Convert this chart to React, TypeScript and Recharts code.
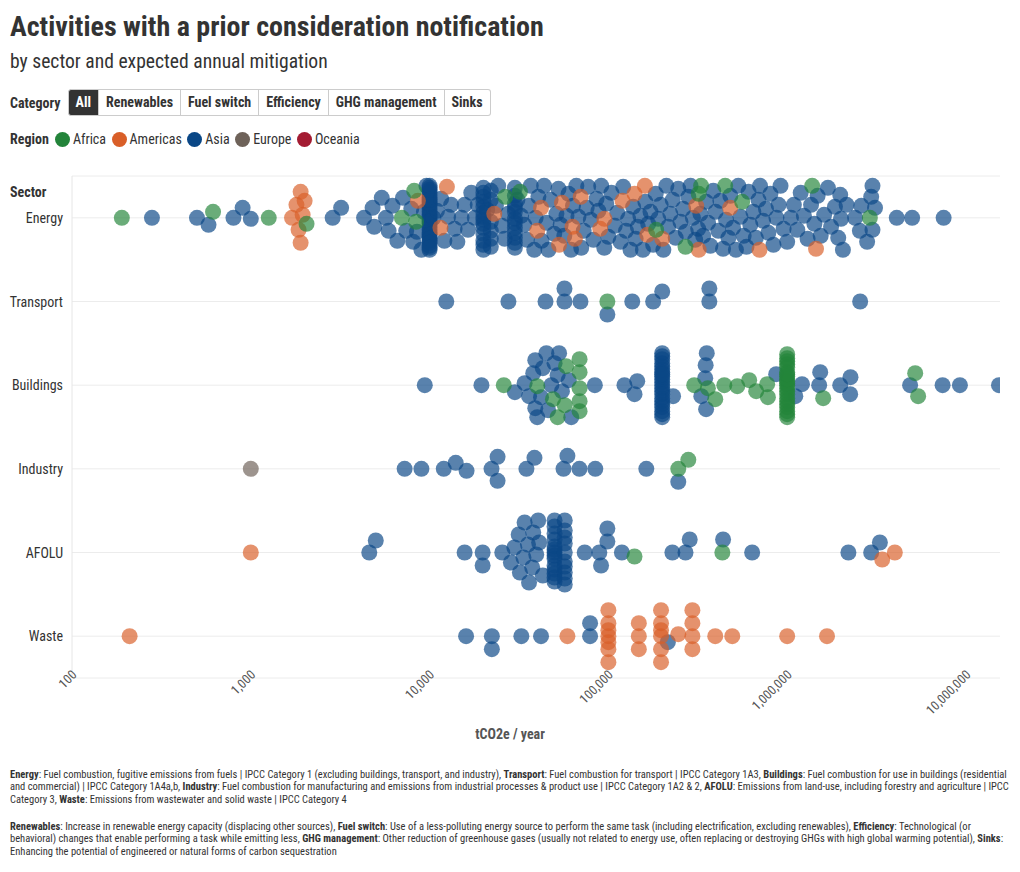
import React from 'react';
import { ScatterChart, Scatter, XAxis, YAxis, CartesianGrid } from 'recharts';

const sectors = ['Energy', 'Transport', 'Buildings', 'Industry', 'AFOLU', 'Waste'];
const regions = ['Africa', 'Americas', 'Asia', 'Europe', 'Oceania'];
const regionColors = ['#23843a', '#d95f28', '#0a4786', '#6e6259', '#a31b32'];
const categories = ['All', 'Renewables', 'Fuel switch', 'Efficiency', 'GHG management', 'Sinks'];
const xTicks = [100, 1000, 10000, 100000, 1000000, 10000000];

// one entry per activity, tCO2e / year
const energyAfrica = [190, 615, 1260, 2050, 7000, 8200, 8400, 26500, 32000, 185000, 270000, 320000, 330000, 450000, 560000, 1380000, 2900000];
const energyAmericas = [1700, 1800, 1850, 1900, 1900, 1950, 2000, 8600, 11500, 12500, 23000, 40000, 42000, 53000, 55000, 63000, 65000, 70000, 90000, 95000, 120000, 140000, 160000, 165000, 200000, 310000, 320000, 480000, 700000, 1450000];
const energyAsia = [
  280, 500, 580, 800, 900, 1000, 2870, 3200, 4300, 4800, 4900, 5400, 5700, 5900, 6200, 6600, 7100, 7400,
  7900, 8100, 8500, 9000, 9300, 9600, 10500, 11000, 11600, 12100, 12700, 13200, 13800, 14300, 15100, 15700,
  16400, 17100, 17900, 18600, 21000, 23500, 24200, 25400, 26300, 27500, 31000, 32500, 33800, 35000, 35900,
  36800, 38500, 39200, 40600, 42300, 43700, 45100, 46200, 47500, 49800, 51200, 52600, 54100, 56700, 58300,
  59900, 61800, 63400, 66200, 68000, 70500, 72800, 75600, 77100, 79800, 82500, 85900, 88000, 91200, 94800,
  97300, 100000, 104000, 108500, 112000, 117000, 121000, 125500, 129000, 133000, 137500, 142000, 146000,
  151000, 156000, 161000, 167000, 172000, 178000, 184000, 190000, 196000, 203000, 211000, 216000, 222000,
  229000, 238000, 246000, 253000, 262000, 271000, 280000, 288000, 297000, 306000, 318000, 327000, 339000,
  352000, 361000, 372000, 386000, 398000, 412000, 423000, 438000, 455000, 469000, 481000, 498000, 517000,
  533000, 548000, 571000, 592000, 608000, 622000, 647000, 668000, 691000, 705000, 733000, 761000, 785000,
  806000, 838000, 871000, 895000, 918000, 955000, 1000000, 1050000, 1090000, 1140000, 1190000, 1240000,
  1300000, 1360000, 1420000, 1480000, 1540000, 1610000, 1690000, 1760000, 1850000, 1930000, 1980000,
  2000000, 2050000, 2150000, 2400000, 2550000, 2600000, 2800000, 2950000, 3000000, 3000000, 3100000,
  4100000, 5000000, 7500000,
];
const transportAfrica = [98700];
const transportAsia = [12400, 27600, 44500, 56800, 56800, 69800, 98700, 136000, 178000, 200000, 367000, 367000, 2560000];
const buildingsAfrica = [26000, 40000, 49000, 52000, 57000, 58000, 69000, 69000, 69000, 69000, 69000, 302000, 360000, 396000, 445000, 526000, 613000, 671000, 773000, 780000, 1590000, 5200000, 5400000];
const buildingsAsia = [
  9400, 19500, 30000, 34000, 36000, 38000, 39000, 39000, 40000, 42000, 43000, 45000, 46000, 48000, 50000,
  52000, 53000, 55000, 60000, 62000, 84000, 123000, 140000, 145000, 230000, 331000, 348000, 350000, 352000,
  355000, 868000, 1110000, 1210000, 1510000, 1530000, 1980000, 2250000, 2260000, 4870000, 7400000, 9250000, 15300000,
];
const industryAfrica = [246000, 280000];
const industryAsia = [7250, 9000, 12000, 14000, 16100, 22200, 24000, 24000, 34800, 38600, 56100, 59000, 68900, 84500, 163000, 246000];
const industryEurope = [1000];
const afoluAfrica = [140000, 434000];
const afoluAmericas = [1000, 3400000, 4000000];
const afoluAsia = [
  4600, 5000, 15700, 19800, 19800, 25500, 28500, 29800, 31500, 32000, 33500, 34000, 35500, 36000, 37500,
  38000, 39500, 40500, 41000, 43000, 73700, 89000, 91000, 98700, 98700, 119000, 228000, 270000, 285000,
  438000, 637000, 2200000, 2950000, 3300000,
];
const wasteAmericas = [210, 59000, 246000, 396000, 493000, 1000000, 1670000];
const wasteAsia = [16000, 22300, 22300, 32600, 42000, 79000, 79000, 215000];

// many activities reporting the same figure: [tCO2e / year, number of activities]
const energyAsiaStacks = [[10000, 28], [20000, 14], [22000, 6], [30000, 12]];
const buildingsAfricaStacks = [[1000000, 22]];
const buildingsAsiaStacks = [[200000, 22]];
const afoluAsiaStacks = [[50000, 14], [57000, 10]];
const wasteAmericasStacks = [[100000, 7], [148000, 3], [197000, 6], [295000, 4]];

// sector index, region index, singles, stacks
const table: [number, number, number[], number[][]][] = [
  [0, 0, energyAfrica, []],
  [0, 1, energyAmericas, []],
  [0, 2, energyAsia, energyAsiaStacks],
  [1, 0, transportAfrica, []],
  [1, 2, transportAsia, []],
  [2, 0, buildingsAfrica, buildingsAfricaStacks],
  [2, 2, buildingsAsia, buildingsAsiaStacks],
  [3, 0, industryAfrica, []],
  [3, 2, industryAsia, []],
  [3, 3, industryEurope, []],
  [4, 0, afoluAfrica, []],
  [4, 1, afoluAmericas, []],
  [4, 2, afoluAsia, afoluAsiaStacks],
  [5, 1, wasteAmericas, wasteAmericasStacks],
  [5, 2, wasteAsia, []],
];

const W = 1020;
const CHART_TOP = 170;
const CHART_H = 600;
const M = { top: 6, right: 20, bottom: 0, left: 0 };
const Y_W = 72;
const X_H = 92;
const X_DOMAIN = [100, 15500000];
const PLOT_W = W - M.left - M.right - Y_W;
const PLOT_H = CHART_H - M.top - M.bottom - X_H;
const PX_PER_DECADE = PLOT_W / Math.log10(X_DOMAIN[1] / X_DOMAIN[0]);
const PX_PER_ROW = PLOT_H / sectors.length;
const MIN_DIST = 13;
const MAX_OFF = 32;

type Pt = { v: number; region: number; sector: number };

function swarm(points: Pt[]) {
  const placed: { x: number; y: number }[] = [];
  const sorted = [...points].sort((a, b) => a.v - b.v);
  return sorted.map((p, i) => {
    const x = Math.log10(p.v) * PX_PER_DECADE;
    const near = placed.filter((q) => Math.abs(q.x - x) < MIN_DIST);
    let best = 0;
    let bestScore = -1;
    outer: for (let k = 0; k <= MAX_OFF; k++) {
      const signs = i % 2 ? [1, -1] : [-1, 1];
      for (const s of signs) {
        const y = k * s;
        let dmin = Infinity;
        for (const q of near) {
          const d = Math.hypot(q.x - x, q.y - y);
          if (d < dmin) dmin = d;
        }
        if (dmin >= MIN_DIST) {
          best = y;
          break outer;
        }
        if (dmin > bestScore) {
          bestScore = dmin;
          best = y;
        }
        if (k === 0) break;
      }
    }
    placed.push({ x, y: best });
    return { x: p.v, y: p.sector + best / PX_PER_ROW, region: p.region };
  });
}

const allPoints: Pt[] = [];
table.forEach(([sector, region, singles, stacks]) => {
  singles.forEach((v) => allPoints.push({ v, region, sector }));
  stacks.forEach(([v, n]) => {
    for (let k = 0; k < n; k++) allPoints.push({ v, region, sector });
  });
});
const laidOut = sectors.flatMap((_, s) => swarm(allPoints.filter((p) => p.sector === s)));
const seriesData = regions.map((_, r) => laidOut.filter((p) => p.region === r));
const drawOrder = [2, 3, 4, 1, 0];

const FONT = "'Roboto Condensed', 'Liberation Sans Narrow', 'DejaVu Sans Condensed', Roboto, sans-serif";

const XTick = (props: any) => {
  const { x, y, payload } = props;
  const ax = x - 1;
  const ay = y - 17;
  return (
    <text x={ax} y={ay} transform={`rotate(-45, ${ax}, ${ay})`} textAnchor="end" fontSize={13} fill="#555" dy="0.71em">
      {payload.value.toLocaleString('en-US')}
    </text>
  );
};

const YTick = (props: any) => {
  const { x, y, payload } = props;
  return (
    <text x={x - 1} y={y} textAnchor="end" dominantBaseline="central" fontSize={14} fill="#333">
      {sectors[payload.value]}
    </text>
  );
};

export default function App() {
  return (
    <div style={{ position: 'relative', width: W, height: 872, margin: -8, fontFamily: FONT, color: '#333', background: '#fff' }}>
      <div style={{ position: 'absolute', left: 10, top: 10, fontSize: 28, fontWeight: 700, lineHeight: '34px' }}>
        Activities with a prior consideration notification
      </div>
      <div style={{ position: 'absolute', left: 10, top: 50, fontSize: 19.6, lineHeight: '24px' }}>
        by sector and expected annual mitigation
      </div>
      <div style={{ position: 'absolute', left: 10, top: 89, height: 27, display: 'flex', alignItems: 'center', fontSize: 14, fontWeight: 700 }}>
        <span style={{ marginRight: 7 }}>Category</span>
        {categories.map((c, i) => (
          <span
            key={c}
            style={{
              height: 25,
              lineHeight: '25px',
              padding: '0 7px',
              border: '1px solid #ccc',
              borderLeft: i === 0 ? '1px solid #ccc' : 'none',
              borderRadius: i === 0 ? '3px 0 0 3px' : i === categories.length - 1 ? '0 3px 3px 0' : 0,
              background: i === 0 ? '#333' : '#fff',
              color: i === 0 ? '#fff' : '#333',
            }}
          >
            {c}
          </span>
        ))}
      </div>
      <div style={{ position: 'absolute', left: 10, top: 130, height: 18, display: 'flex', alignItems: 'center', fontSize: 14 }}>
        <span style={{ fontWeight: 700, marginRight: 6 }}>Region</span>
        {regions.map((r, i) => (
          <span key={r} style={{ display: 'flex', alignItems: 'center', marginRight: 5.5 }}>
            <span style={{ width: 15, height: 15, borderRadius: 8, background: regionColors[i], marginRight: 3 }} />
            {r}
          </span>
        ))}
      </div>
      <div style={{ position: 'absolute', left: 10, top: 183, fontSize: 14, fontWeight: 700, lineHeight: '18px' }}>Sector</div>
      <div style={{ position: 'absolute', top: CHART_TOP, left: 0 }}>
        <ScatterChart width={W} height={CHART_H} margin={M}>
          <CartesianGrid horizontal vertical={false} stroke="#ececec" />
          <XAxis
            type="number"
            dataKey="x"
            scale="log"
            domain={X_DOMAIN}
            allowDataOverflow
            ticks={xTicks}
            tick={<XTick />}
            axisLine={false}
            tickLine={false}
            height={X_H}
            interval={0}
          />
          <YAxis
            type="number"
            dataKey="y"
            domain={[-0.5, 5.5]}
            ticks={[0, 1, 2, 3, 4, 5]}
            reversed
            width={Y_W}
            tick={<YTick />}
            axisLine={{ stroke: '#e6e6e6' }}
            tickLine={false}
            interval={0}
          />
          {drawOrder.map((r) => (
            <Scatter
              key={regions[r]}
              name={regions[r]}
              data={seriesData[r]}
              isAnimationActive={false}
              shape={(p: any) => <circle cx={p.cx} cy={p.cy} r={8} fill={regionColors[r]} fillOpacity={0.68} />}
            />
          ))}
        </ScatterChart>
      </div>
      <div style={{ position: 'absolute', left: 0, width: W, top: 726, textAlign: 'center', fontSize: 14, fontWeight: 700, color: '#555' }}>
        tCO2e / year
      </div>
      <div style={{ position: 'absolute', left: 10, width: 1000, top: 769, fontSize: 10.5, lineHeight: '12.4px' }}>
        <b>Energy</b>: Fuel combustion, fugitive emissions from fuels | IPCC Category 1 (excluding buildings, transport, and industry), <b>Transport</b>: Fuel combustion for transport | IPCC Category 1A3, <b>Buildings</b>: Fuel combustion for use in buildings (residential and commercial) | IPCC Category 1A4a,b, <b>Industry</b>: Fuel combustion for manufacturing and emissions from industrial processes &amp; product use | IPCC Category 1A2 &amp; 2, <b>AFOLU</b>: Emissions from land-use, including forestry and agriculture | IPCC Category 3, <b>Waste</b>: Emissions from wastewater and solid waste | IPCC Category 4
      </div>
      <div style={{ position: 'absolute', left: 10, width: 1000, top: 821, fontSize: 10.5, lineHeight: '12.4px' }}>
        <b>Renewables</b>: Increase in renewable energy capacity (displacing other sources), <b>Fuel switch</b>: Use of a less-polluting energy source to perform the same task (including electrification, excluding renewables), <b>Efficiency</b>: Technological (or behavioral) changes that enable performing a task while emitting less, <b>GHG management</b>: Other reduction of greenhouse gases (usually not related to energy use, often replacing or destroying GHGs with high global warming potential), <b>Sinks</b>: Enhancing the potential of engineered or natural forms of carbon sequestration
      </div>
    </div>
  );
}
